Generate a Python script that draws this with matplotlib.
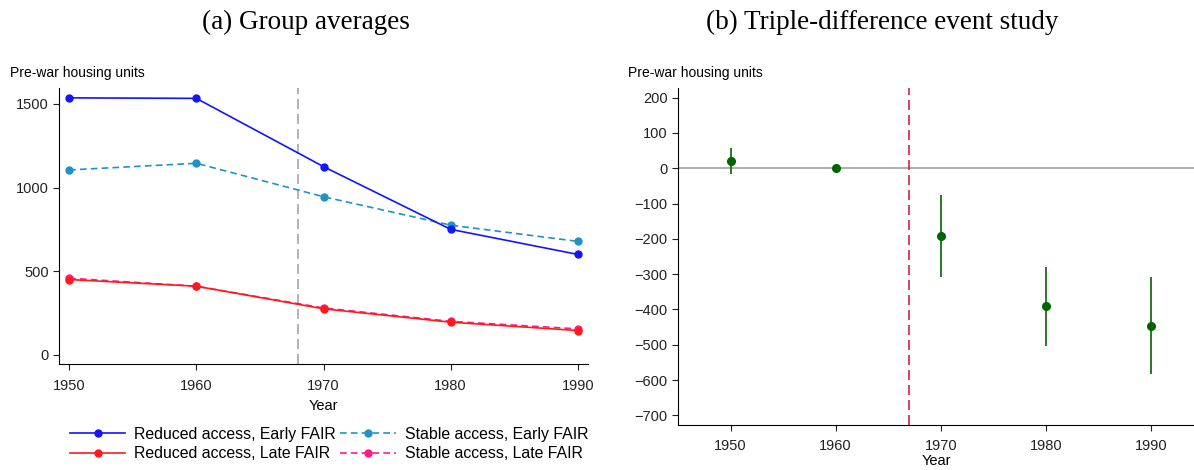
import matplotlib
matplotlib.use("Agg")
import matplotlib.pyplot as plt
from matplotlib.lines import Line2D

years = [1950, 1960, 1970, 1980, 1990]
reduced_early = [1536, 1533, 1125, 750, 600]
stable_early = [1105, 1145, 945, 775, 678]
reduced_late = [450, 410, 275, 195, 145]
stable_late = [458, 410, 280, 200, 155]

es_years = [1950, 1960, 1970, 1980, 1990]
es_coef = [19, 0, -193, -391, -446]
es_lo = [-16, 0, -309, -502, -582]
es_hi = [56, 0, -76, -279, -309]

plt.rcParams['font.family'] = ['Liberation Sans', 'DejaVu Sans']

fig = plt.figure(figsize=(11.94, 4.70), dpi=100)
W, H = 1194, 470

def ax_rect(l, r, t, b):
    return [l / W, (H - b) / H, (r - l) / W, (b - t) / H]

tick_fs = 10.5
serif = ['Liberation Serif', 'DejaVu Serif']

# ---------- Panel (a)
ax1 = fig.add_axes(ax_rect(59, 588, 88, 364))
c_re, c_se, c_rl, c_sl = '#1414ff', '#1f93c4', '#ff1a1a', '#ff1a8c'
ax1.plot(years, stable_early, color=c_se, ls=(0, (4, 2.5)), lw=1.2, marker='o', ms=5)
ax1.plot(years, reduced_early, color=c_re, ls='-', lw=1.2, marker='o', ms=5)
ax1.plot(years, stable_late, color=c_sl, ls=(0, (4, 2.5)), lw=1.2, marker='o', ms=5)
ax1.plot(years, reduced_late, color=c_rl, ls='-', lw=1.2, marker='o', ms=5)
ax1.axvline(1968, color='#a8a8a8', ls=(0, (6, 3)), lw=1.2, zorder=0)
ax1.set_xlim(1949.2, 1990.8)
ax1.set_ylim(-55, 1595)
ax1.set_xticks(years)
ax1.set_yticks([0, 500, 1000, 1500])
ax1.spines['top'].set_visible(False)
ax1.spines['right'].set_visible(False)
ax1.tick_params(labelsize=tick_fs, length=4, colors='#222222')
ax1.tick_params(axis='x', pad=7)
ax1.set_xlabel('Year', fontsize=tick_fs, labelpad=4)
fig.text(10 / W, 1 - 73 / H, 'Pre-war housing units', fontsize=10, va='center', ha='left')
fig.text(306 / W, 1 - 22 / H, '(a) Group averages', fontsize=19.5, va='center', ha='center', family=serif)

handles = [
    Line2D([], [], color=c_re, ls='-', lw=1.2, marker='o', ms=5),
    Line2D([], [], color=c_rl, ls='-', lw=1.2, marker='o', ms=5),
    Line2D([], [], color=c_se, ls=(0, (4, 2.5)), lw=1.2, marker='o', ms=5),
    Line2D([], [], color=c_sl, ls=(0, (4, 2.5)), lw=1.2, marker='o', ms=5),
]
labels = ['Reduced access, Early FAIR', 'Reduced access, Late FAIR',
          'Stable access, Early FAIR', 'Stable access, Late FAIR']
fig.legend(handles, labels, ncol=2, loc='center', bbox_to_anchor=(329 / W, 1 - 444 / H),
           frameon=False, fontsize=11.4, handlelength=3.5, columnspacing=0.3,
           handletextpad=0.55, labelspacing=0.28)

# ---------- Panel (b)
ax2 = fig.add_axes(ax_rect(678, 1194, 88, 425))
ax2.axhline(0, color='#a0a0a0', lw=1.2, zorder=0)
ax2.axvline(1967, color='#d81e4e', ls=(0, (6, 3)), lw=1.2, zorder=1)
ax2.vlines(es_years, es_lo, es_hi, color='#267a26', lw=1.4, zorder=2)
ax2.plot(es_years, es_coef, 'o', color='#006400', ms=5.5, zorder=3)
ax2.set_xlim(1945, 1994.1)
ax2.set_ylim(-727, 227)
ax2.set_xticks(es_years)
ax2.set_yticks(list(range(-700, 201, 100)))
ax2.spines['top'].set_visible(False)
ax2.spines['right'].set_visible(False)
ax2.tick_params(labelsize=tick_fs, length=4, colors='#222222')
ax2.tick_params(axis='x', pad=6)
ax2.set_xlabel('Year', fontsize=tick_fs, labelpad=1)
fig.text(628 / W, 1 - 73 / H, 'Pre-war housing units', fontsize=10, va='center', ha='left')
fig.text(882 / W, 1 - 22 / H, '(b) Triple-difference event study', fontsize=19.5, va='center', ha='center', family=serif)

fig.savefig('out.png', dpi=100)
